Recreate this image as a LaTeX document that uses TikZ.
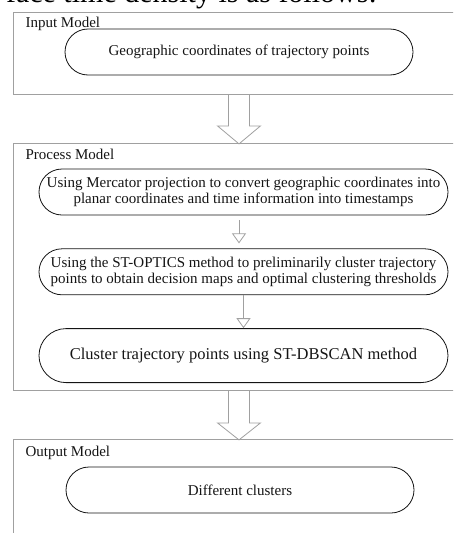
\documentclass[tikz,border=0pt]{standalone}
\usepackage{fontspec}
\setmainfont{Liberation Serif}
\usepackage{tikz}
\usetikzlibrary{arrows.meta, positioning, shapes.misc}
\definecolor{FrameGray}{RGB}{160, 160, 160}
\definecolor{InkBlack}{RGB}{20, 20, 20}
\tikzset{%
  panel/.style={%
    rectangle,%
    draw=FrameGray,%
    line width=0.9pt,%
    anchor=north west,%
    inner sep=0pt,%
  },
  panel_label/.style={%
    anchor=base west,%
    color=InkBlack,%
    font={\fontsize{15}{16}\selectfont},%
  },
  stadium/.style={%
    rounded rectangle,%
    draw=FrameGray,%
    line width=0.8pt,%
    minimum height=46pt,%
    inner sep=0pt,%
    color=InkBlack,%
    font={\fontsize{15}{16}\selectfont},%
    align=center,%
  },
  hollow_arrow/.style={%
    draw=FrameGray,%
    line width=0.8pt,%
    line join=miter,%
  },
  flow/.style={%
    draw=FrameGray,%
    line width=0.8pt,%
    -{Triangle[open, length=10pt, width=14pt]},%
  },
}

\begin{document}
\begin{tikzpicture}[x=1pt, y=1pt]
    \useasboundingbox (0, 0) rectangle (453, -533);
    \clip (0, 0) rectangle (453, -533);

    % cut-off line of the page above the figure
    \node[anchor=base east, inner sep=0pt, font={\fontsize{30}{30}\selectfont}] (Caption)
      at (377, -2.5) {face time density is as follows:};

    % the three panels
    \node[panel, minimum width=460pt, minimum height=82pt] (InBox) at (13, -12) {};
    \node[panel, minimum width=460pt, minimum height=247pt] (ProcBox) at (13, -143) {};
    \node[panel, minimum width=460pt, minimum height=110pt] (OutBox) at (13, -439) {};

    \node[panel_label] (InLabel) at (22, -27) {Input Model};
    \node[panel_label] (ProcLabel) at (22, -159) {Process Model};
    \node[panel_label] (OutLabel) at (22, -456) {Output Model};

    % steps
    \node[stadium, minimum width=348pt] (InEll) at (239, -52)
      {Geographic coordinates of trajectory points};
    \node[stadium, minimum width=409pt] (MercEll) at (243.5, -192)
      {Using Mercator projection to convert geographic coordinates into\\
       planar coordinates and time information into timestamps};
    \node[stadium, minimum width=409pt, below = 33 of MercEll] (OptEll)
      {Using the ST-OPTICS method to preliminarily cluster trajectory\\
       points to obtain decision maps and optimal clustering thresholds};
    \node[stadium, minimum width=409pt, minimum height=54pt,
      font={\fontsize{16.5}{18}\selectfont}, below = 33 of OptEll] (DbEll)
      {Cluster trajectory points using ST-DBSCAN method};
    \node[stadium, minimum width=348pt] (OutEll) at (240, -490)
      {Different clusters};

    % arrows between the panels
    \draw[hollow_arrow]
      ([xshift=-10.5pt]InBox.south -| InEll.south)
      -- ++(0, -31) -- ++(-11, 0) -- ++(21.5, -18)
      -- ++(21.5, 18) -- ++(-11, 0) -- ++(0, 31);
    \draw[hollow_arrow]
      ([xshift=-10.5pt]ProcBox.south -| InEll.south)
      -- ++(0, -32) -- ++(-11, 0) -- ++(21.5, -17)
      -- ++(21.5, 17) -- ++(-11, 0) -- ++(0, 32);

    % arrows inside the process panel
    \draw[flow]
      ([yshift=-5pt]MercEll.south -| InEll.south)
      --
      ([yshift=5pt]OptEll.north -| InEll.south);
    \draw[flow]
      (OptEll.south)
      --
      (DbEll.north);

  \end{tikzpicture}
\end{document}
